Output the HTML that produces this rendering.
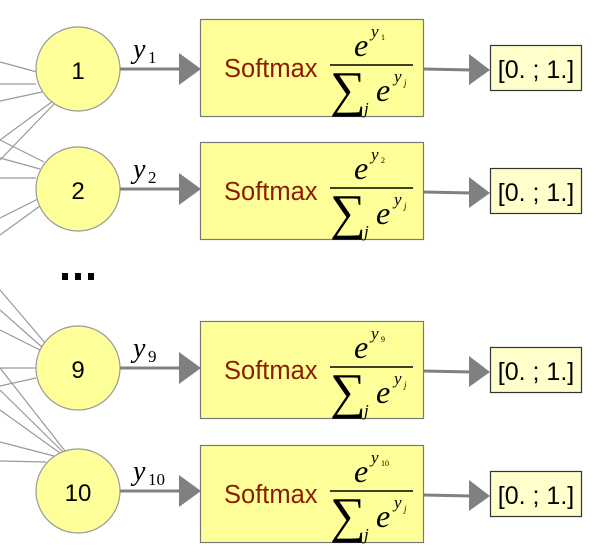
<!DOCTYPE html>
<html><head><meta charset="utf-8"><style>
html,body{margin:0;padding:0;background:#fff;}
svg{display:block;}
.lab{font-family:"Liberation Sans",sans-serif;}
.ser{font-family:"Liberation Serif",serif;font-style:italic;}
</style></head><body>
<svg width="597" height="559" viewBox="0 0 597 559" xmlns="http://www.w3.org/2000/svg">
<g stroke="#999" stroke-width="1.2">
<line x1="0" y1="62" x2="37" y2="72"/><line x1="0" y1="84" x2="36" y2="84"/><line x1="0" y1="101" x2="42" y2="92"/>
<line x1="0" y1="160" x2="55" y2="103"/><line x1="0" y1="140" x2="53" y2="101"/>
<line x1="0" y1="140" x2="44" y2="162"/><line x1="0" y1="158" x2="40" y2="169"/><line x1="0" y1="178" x2="36" y2="178"/>
<line x1="0" y1="218" x2="38" y2="199"/><line x1="0" y1="235" x2="40" y2="206"/>
<line x1="0" y1="290" x2="46" y2="344"/><line x1="0" y1="310" x2="43" y2="348"/><line x1="0" y1="330" x2="40" y2="350"/>
<line x1="0" y1="368" x2="36" y2="368"/><line x1="0" y1="386" x2="36" y2="378"/>
<line x1="0" y1="368" x2="65" y2="451"/><line x1="0" y1="390" x2="63" y2="452"/><line x1="0" y1="410" x2="60" y2="453"/>
<line x1="0" y1="442" x2="54" y2="456"/><line x1="0" y1="461" x2="46" y2="462"/>
</g>
<g><circle cx="78" cy="69" r="42" fill="#ffff99" stroke="#999" stroke-width="1.2"/><text class="lab" x="78" y="79" font-size="24" text-anchor="middle">1</text></g>
<g><circle cx="78" cy="189" r="42" fill="#ffff99" stroke="#999" stroke-width="1.2"/><text class="lab" x="78" y="199" font-size="24" text-anchor="middle">2</text></g>
<g><circle cx="78" cy="368" r="42" fill="#ffff99" stroke="#999" stroke-width="1.2"/><text class="lab" x="78" y="378" font-size="24" text-anchor="middle">9</text></g>
<g><circle cx="78" cy="491" r="42" fill="#ffff99" stroke="#999" stroke-width="1.2"/><text class="lab" x="78" y="501" font-size="24" text-anchor="middle">10</text></g>
<g fill="#000"><rect x="62" y="273" width="6" height="7"/><rect x="75" y="273" width="6" height="7"/><rect x="88" y="273" width="6" height="7"/></g>
<g id="rows"></g>
</svg>
<script>
const rows=[{cy:69,bc:68,sub:"1"},{cy:189,bc:191,sub:"2"},{cy:368,bc:370,sub:"9"},{cy:491,bc:494,sub:"10"}];
const NS="http://www.w3.org/2000/svg";
const g=document.getElementById('rows');
function mk(tag,attrs,parent,txt){const e=document.createElementNS(NS,tag);for(const k in attrs)e.setAttribute(k,attrs[k]);if(txt!==undefined)e.textContent=txt;parent.appendChild(e);return e;}
rows.forEach(r=>{
 const cy=r.cy, c=r.bc;
 const row=mk('g',{},g);
 
 
 const a1=mk('line',{x1:120,y1:cy,x2:182,y2:cy,stroke:'#808080','stroke-width':3},row);
 
 
 mk('polygon',{points:`179,${cy-16} 201,${cy} 179,${cy+16}`,fill:'#808080'},row);
 const yl=mk('text',{class:'ser',x:133,y:cy-11,'font-size':28},row,'y');
 
 
 mk('text',{class:'ser',x:148,y:cy-6,'font-size':17},row,r.sub).style.fontStyle='normal';
 const box=mk('rect',{x:200.5,y:c-48.5,width:223,height:97,fill:'#ffff99',stroke:'#777','stroke-width':1.2},row);
 
 
 mk('text',{class:'lab',x:224,y:c+9,'font-size':25.5,fill:'#8b1a00'},row,'Softmax');
 mk('text',{class:'ser',x:354,y:c-12,'font-size':32},row,'e');
 mk('text',{class:'ser',x:371,y:c-31,'font-size':17},row,'y');
 mk('text',{class:'ser',x:381,y:c-28,'font-size':8},row,r.sub).style.fontStyle='normal';
 mk('line',{x1:330,y1:c-3,x2:413,y2:c-3,stroke:'#000','stroke-width':1.5},row);
 mk('text',{class:'ser',x:330,y:c+38,'font-size':50},row,'\u2211').style.fontStyle='normal';
 mk('text',{class:'ser',x:364,y:c+46,'font-size':17},row,'j');
 mk('text',{class:'ser',x:376,y:c+33,'font-size':32},row,'e');
 mk('text',{class:'ser',x:394,y:c+14,'font-size':17},row,'y');
 mk('text',{class:'ser',x:404,y:c+18,'font-size':9},row,'j');
 mk('line',{x1:423,y1:c+1,x2:472,y2:c+2,stroke:'#808080','stroke-width':3},row);
 mk('polygon',{points:`469,${c-14} 490,${c+2} 469,${c+17}`,fill:'#808080'},row);
 const rb=mk('rect',{x:490.5,y:c-22.5,width:91,height:45,fill:'#ffffcc',stroke:'#333','stroke-width':1.2},row);
 
 
 mk('text',{class:'lab',x:536,y:c+10,'font-size':25,'text-anchor':'middle'},row,'[0. ; 1.]');
});
</script>
</body></html>
